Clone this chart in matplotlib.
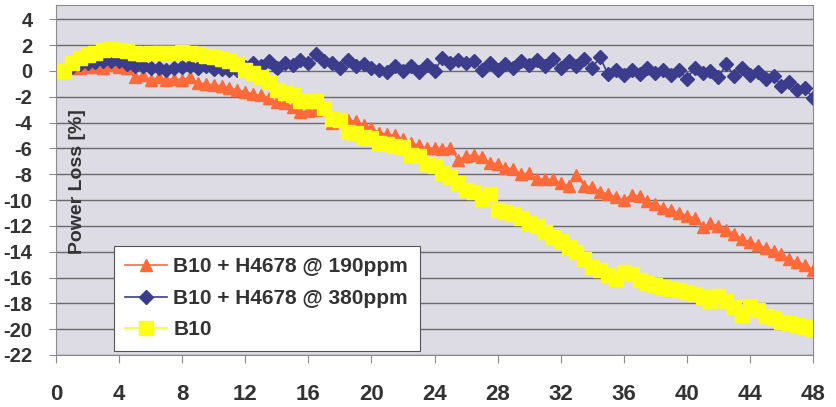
import numpy as np
import matplotlib
matplotlib.use("Agg")
import matplotlib.pyplot as plt

plt.rcParams['font.family'] = ['Liberation Sans', 'DejaVu Sans']
plt.rcParams['font.weight'] = 'bold'
plt.rcParams['axes.unicode_minus'] = False

# hours, sampled every half hour
hours = np.arange(1, 97) * 0.5

loss_190 = [0.0, 0.2, 0.2, 0.3, 0.3, 0.2, 0.45, 0.3,
            0.2, -0.5, -0.35, -0.7, -0.5, -0.7, -0.6, -0.7,
            -0.5, -0.95, -1.0, -1.1, -1.15, -1.3, -1.5, -1.6,
            -1.8, -1.9, -2.1, -2.4, -2.5, -2.8, -3.2, -3.1,
            -3.0, -2.8, -4.0, -3.7, -3.8, -3.9, -4.2, -4.4,
            -4.8, -4.9, -5.0, -5.3, -5.6, -5.75, -6.0, -6.0,
            -6.05, -5.95, -6.9, -6.6, -6.5, -6.7, -7.1, -7.2,
            -7.5, -7.6, -8.0, -7.9, -8.35, -8.4, -8.4, -8.7,
            -8.9, -8.1, -8.9, -9.0, -9.4, -9.5, -9.8, -10.0,
            -9.6, -9.7, -10.1, -10.3, -10.6, -10.8, -11.0, -11.2,
            -11.4, -12.1, -11.8, -12.0, -12.3, -12.6, -13.0, -13.25,
            -13.45, -13.7, -13.95, -14.2, -14.6, -14.8, -15.05, -15.4]

loss_380 = [0.0, 0.3, 0.5, 0.6, 0.7, 0.8, 0.75, 0.8,
            0.55, 0.4, 0.4, 0.2, 0.2, 0.1, 0.2, 0.3,
            0.4, 0.2, 0.35, 0.15, 0.15, 0.05, 0.05, 0.3,
            0.6, 0.4, 0.75, 0.2, 0.6, 0.45, 0.85, 0.6,
            1.3, 0.75, 0.6, 0.25, 0.85, 0.4, 0.5, 0.25,
            0.1, -0.05, 0.35, 0.0, 0.35, -0.05, 0.45, 0.0,
            1.0, 0.6, 0.85, 0.6, 0.75, 0.05, 0.6, 0.1,
            0.5, 0.2, 0.75, 0.45, 0.85, 0.35, 0.9, 0.25,
            0.75, 0.35, 0.9, 0.25, 1.05, -0.25, 0.05, -0.35,
            0.05, -0.25, 0.2, -0.15, 0.05, -0.3, 0.05, -0.6,
            0.2, -0.2, 0.0, -0.5, 0.5, -0.4, 0.2, -0.3,
            -0.05, -0.65, -0.4, -1.15, -0.85, -1.45, -1.35, -2.1]

loss_b10 = [0.0, 0.6, 1.0, 1.2, 1.35, 1.6, 1.7, 1.6,
            1.5, 1.35, 1.3, 1.35, 1.35, 1.4, 1.35, 1.45,
            1.35, 1.3, 1.15, 1.05, 0.95, 0.75, 0.5, 0.1,
            -0.2, -0.5, -0.9, -1.5, -1.7, -1.9, -2.3, -2.3,
            -2.3, -2.9, -3.7, -3.8, -4.7, -4.8, -5.1, -5.2,
            -5.6, -5.7, -5.8, -5.9, -6.5, -6.6, -7.2, -7.4,
            -7.9, -8.2, -8.7, -9.2, -9.4, -9.9, -9.5, -10.8,
            -10.9, -11.1, -11.4, -11.8, -12.0, -12.5, -12.9, -13.2,
            -13.6, -14.0, -14.6, -15.2, -15.4, -15.8, -16.1, -15.6,
            -15.7, -16.2, -16.4, -16.6, -16.75, -16.9, -17.0, -17.15,
            -17.3, -17.5, -17.8, -17.4, -17.8, -18.3, -18.9, -18.2,
            -18.55, -18.95, -19.1, -19.45, -19.5, -19.7, -19.85, -20.0]

labels = ["B10 + H4678 @ 190ppm", "B10 + H4678 @ 380ppm", "B10"]
x_ticks = np.arange(0, 49, 4)
y_ticks = np.arange(-22, 5, 2)

fig = plt.figure(figsize=(8.36, 4.07), dpi=100)
ax = fig.add_axes([56 / 836, 1 - 355 / 407, 757 / 836, 350 / 407])
ax.set_facecolor("#dddce4")

ax.plot(hours, loss_190, color="#ff6a3a", marker="^", markersize=9, lw=1.2, label=labels[0])
ax.plot(hours, loss_380, color="#3b3d8c", marker="D", markersize=7.5, lw=1.2, label=labels[1])
ax.plot(hours, loss_b10, color="#ffff14", marker="s", markersize=9.5, lw=1.2, label=labels[2])

ax.set_xlim(0, 48)
ax.set_ylim(-22, 5.1)
ax.set_xticks(x_ticks)
ax.set_yticks(y_ticks)
ax.yaxis.grid(True, color="#6a6a6a", lw=1.0)
ax.set_axisbelow(True)
for s in ax.spines.values():
    s.set_color("#8a8a8a")
ax.tick_params(axis="y", length=5, pad=12, labelsize=14.5, colors="#8a8a8a", labelcolor="#333333")
ax.tick_params(axis="x", length=6, pad=15, labelsize=16, colors="#8a8a8a", labelcolor="#333333")

ax.text(0.029, 0.495, "Power Loss [%]", transform=ax.transAxes, rotation=90,
        ha="center", va="center", fontsize=14, color="#333333")

leg = ax.legend(loc="upper left", bbox_to_anchor=(114 / 836, 1 - 246 / 407),
                bbox_transform=fig.transFigure, fontsize=15, frameon=True, fancybox=False,
                borderaxespad=0, handlelength=2.0, labelspacing=0.6, borderpad=0.55,
                handletextpad=0.3)
leg.get_frame().set_edgecolor("#555555")
leg.get_frame().set_linewidth(0.8)
leg.get_frame().set_alpha(1.0)
for t in leg.get_texts():
    t.set_color("#333333")

fig.savefig("out.png", dpi=100)
